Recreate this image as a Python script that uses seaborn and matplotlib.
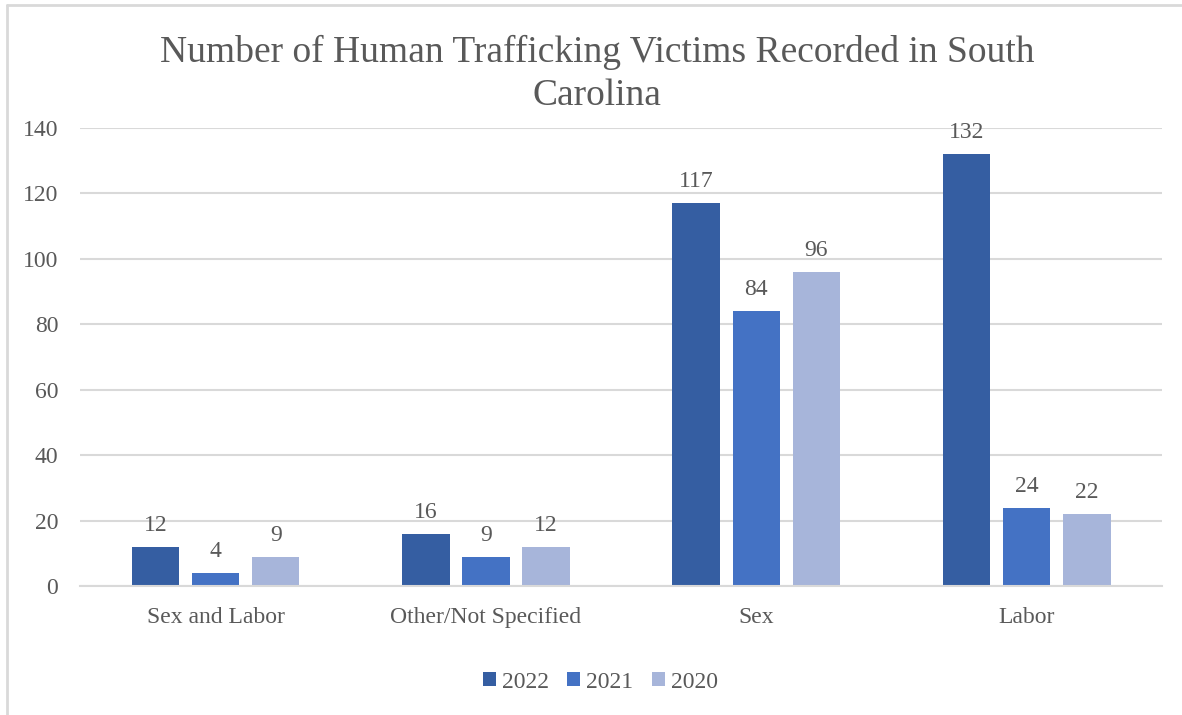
import matplotlib
matplotlib.use("Agg")
import matplotlib.pyplot as plt
import seaborn as sns
import pandas as pd

# data
categories = ["Sex and Labor", "Other/Not Specified", "Sex", "Labor"]
years = ["2022", "2021", "2020"]
victims_2022 = [12, 16, 117, 132]
victims_2021 = [4, 9, 84, 24]
victims_2020 = [9, 12, 96, 22]
colors = ["#355EA2", "#4472C4", "#A7B5DA"]

df = pd.DataFrame({
    "Category": categories * 3,
    "Year": [y for y in years for _ in categories],
    "Victims": victims_2022 + victims_2021 + victims_2020,
})

sns.set_theme(style="white")
plt.rcParams["font.family"] = ["Liberation Serif", "DejaVu Serif"]
text_color = "#595959"

fig = plt.figure(figsize=(11.82, 7.15), dpi=100)
ax = fig.add_axes([0.068, 0.180, 0.915, 0.641])

sns.barplot(data=df, x="Category", y="Victims", hue="Year", hue_order=years,
            palette=colors, width=0.667, gap=0.21, saturation=1,
            edgecolor="none", ax=ax, legend=True)

for cont in ax.containers:
    ax.bar_label(cont, fmt="%d", padding=8, fontsize=17, color=text_color)

ax.set_ylim(0, 140)
ax.set_yticks(range(0, 141, 20))
ax.set_xlim(-0.5, 3.5)
ax.yaxis.grid(True, color="#D9D9D9", lw=1.5)
ax.set_axisbelow(True)
for s in ["top", "right", "left"]:
    ax.spines[s].set_visible(False)
ax.spines["bottom"].set_color("#D9D9D9")
ax.spines["bottom"].set_linewidth(1.5)
ax.tick_params(axis="both", length=0, labelsize=17, labelcolor=text_color)
ax.tick_params(axis="y", pad=16)
ax.tick_params(axis="x", pad=15)
ax.set_xlabel("")
ax.set_ylabel("")

fig.suptitle("Number of Human Trafficking Victims Recorded in South\nCarolina",
             x=0.505, y=0.951, fontsize=27, color=text_color, linespacing=1.32)

handles, labels = ax.get_legend_handles_labels()
ax.legend_.remove()
fig.legend(handles, labels, loc="center", bbox_to_anchor=(0.508, 0.046), ncol=3,
           frameon=False, fontsize=17, labelcolor=text_color,
           handlelength=0.55, handleheight=0.55, handletextpad=0.25, columnspacing=0.8)

# light frame like the original chart area border
fig.add_artist(plt.Line2D([0.006, 0.006], [0, 0.993], color="#D9D9D9", lw=2,
                          transform=fig.transFigure))
fig.add_artist(plt.Line2D([0.006, 1], [0.993, 0.993], color="#D9D9D9", lw=2,
                          transform=fig.transFigure))

fig.savefig("out.png", dpi=100)
